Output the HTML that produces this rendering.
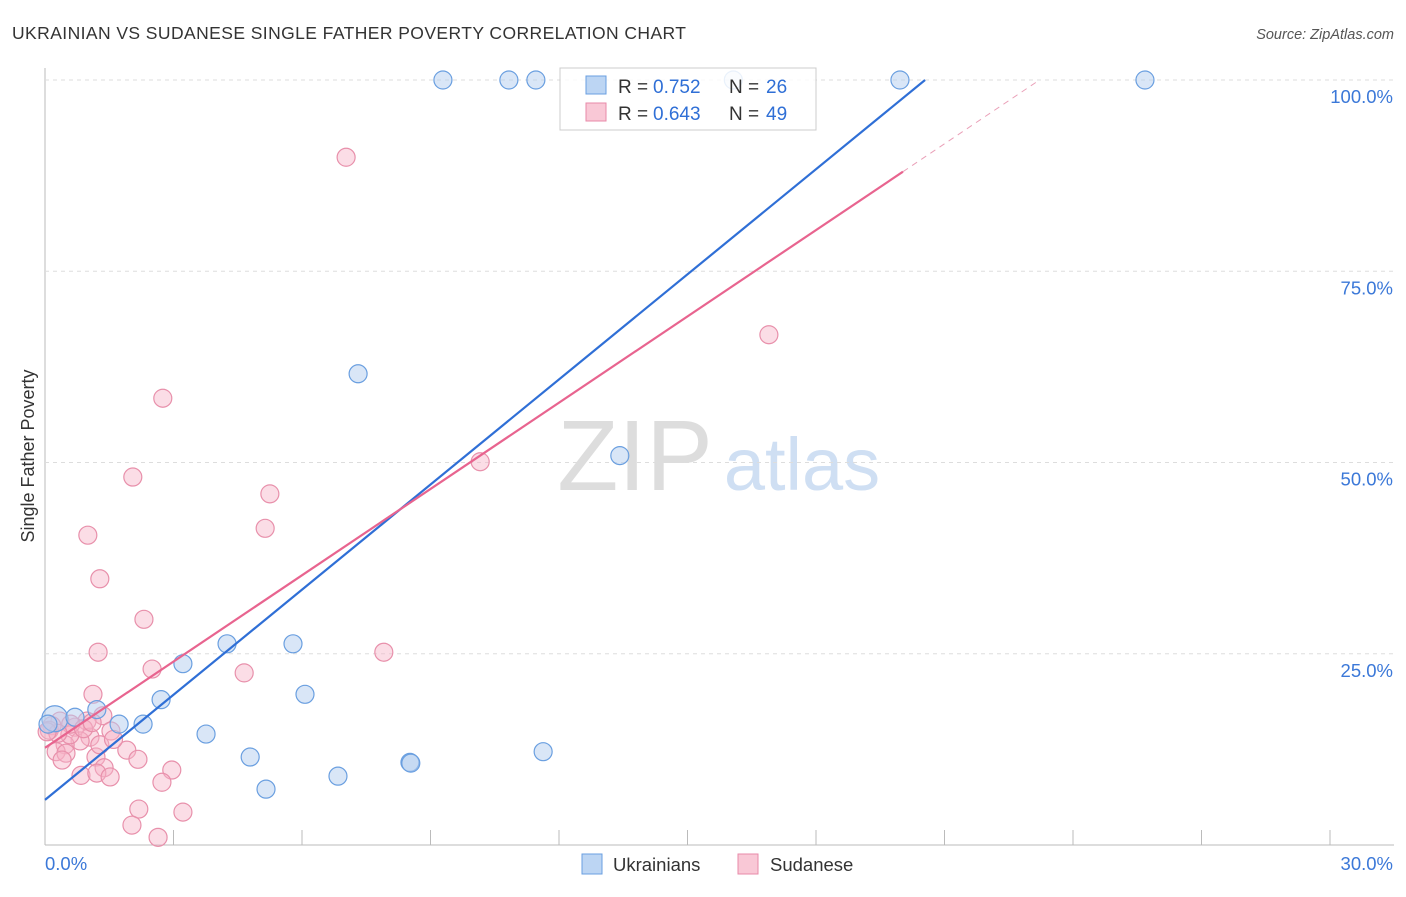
<!DOCTYPE html>
<html><head><meta charset="utf-8"><style>
body{margin:0;background:#fff;font-family:"Liberation Sans",sans-serif;}
svg text{font-family:"Liberation Sans",sans-serif;}
</style></head><body>
<svg id="c" width="1406" height="892">
<text x="12" y="39" font-size="17.5" fill="#333" textLength="674">UKRAINIAN VS SUDANESE SINGLE FATHER POVERTY CORRELATION CHART</text>
<text x="1394" y="39" font-size="14.5" fill="#555" font-style="italic" text-anchor="end">Source: ZipAtlas.com</text>
<text x="34" y="456" font-size="18" fill="#333" text-anchor="middle" transform="rotate(-90 34 456)">Single Father Poverty</text>
<text x="635" y="490" font-size="100" fill="#ddd" font-family="Liberation Serif" text-anchor="middle">ZIP</text>
<text x="802" y="490" font-size="74" fill="#cfdff3" text-anchor="middle">atlas</text>
<g id="grid"></g><g id="marks"></g>
<g>
<rect x="560" y="68" width="256" height="62" fill="rgba(255,255,255,0.85)" stroke="#ccc"/>
<rect x="586" y="76" width="20" height="18" fill="#bcd5f3" stroke="#6a9fe0"/>
<text x="618" y="93" font-size="19" fill="#333">R =</text><text x="653" y="93" font-size="19" fill="#2f6fd6">0.752</text>
<text x="729" y="93" font-size="19" fill="#333">N =</text><text x="766" y="93" font-size="19" fill="#2f6fd6">26</text>
<rect x="586" y="103" width="20" height="18" fill="#f9c8d6" stroke="#e88aa8"/>
<text x="618" y="120" font-size="19" fill="#333">R =</text><text x="653" y="120" font-size="19" fill="#2f6fd6">0.643</text>
<text x="729" y="120" font-size="19" fill="#333">N =</text><text x="766" y="120" font-size="19" fill="#2f6fd6">49</text>
</g>
<g>
<rect x="582" y="854" width="20" height="20" fill="#bcd5f3" stroke="#6a9fe0"/>
<text x="613" y="871" font-size="18.5" fill="#333">Ukrainians</text>
<rect x="738" y="854" width="20" height="20" fill="#f9c8d6" stroke="#e88aa8"/>
<text x="770" y="871" font-size="18.5" fill="#333">Sudanese</text>
</g>
</svg>
<script>
const yTicks=[25,50,75,100];
const xTickLabels=["0.0%","30.0%"];
const blueX=[9.29,10.83,11.46,16.07,19.96,25.68,7.31,13.42,4.25,5.79,3.22,6.07,2.71,1.21,2.29,1.73,3.76,4.79,11.63,8.52,8.54,6.84,5.16,0.23,0.70,0.07];
const blueY=[100,100,100,100,100,100,61.6,50.9,26.3,26.3,23.7,19.7,19.0,17.7,15.8,15.8,14.5,11.5,12.2,10.8,10.7,9.0,7.3,16.5,16.7,15.8];
const pinkX=[7.03,16.9,2.75,2.05,10.16,5.25,5.14,1.0,1.28,2.31,1.24,7.91,2.5,4.65,1.12,1.35,0.98,0.35,0.7,0.16,1.54,1.05,0.82,0.47,1.91,0.26,0.49,1.19,2.17,1.38,2.96,0.84,1.21,1.52,2.73,2.19,3.22,2.03,2.64,0.58,1.28,0.4,0.1,0.6,0.9,1.6,0.3,1.1,0.05];
const pinkY=[89.9,66.7,58.4,48.1,50.1,45.9,41.4,40.5,34.8,29.5,25.2,25.2,23.0,22.5,19.7,16.9,16.2,16.2,15.4,15.6,14.9,14.1,13.6,13.1,12.4,12.2,12.0,11.5,11.2,10.1,9.8,9.1,9.4,8.9,8.2,4.7,4.3,2.6,1.0,14.4,13.1,11.1,15.0,15.8,15.2,13.8,14.6,16.0,14.8];
const blueLine=[5.9,4.58], pinkLine=[12.7,3.76];
const X=v=>45+v/30*1285, Y=v=>845-v/100*765;
const NS="http://www.w3.org/2000/svg";
const g=document.getElementById('grid'), m=document.getElementById('marks');
function el(t,a,p){const e=document.createElementNS(NS,t);for(const k in a)e.setAttribute(k,a[k]);p.appendChild(e);return e;}
let ax=el('line',{x1:45,y1:68,x2:45,y2:845,stroke:'#bbb'},g);

let bx=el('line',{x1:45,y1:845,x2:1394,y2:845,stroke:'#bbb'},g);

for(let i=0;i<=10;i++){let t=el('line',{x1:X(i*3),y1:830,x2:X(i*3),y2:845,stroke:'#bbb'},g);
}
yTicks.forEach(v=>{let l=el('line',{x1:45,y1:Y(v),x2:1394,y2:Y(v),stroke:'#ddd','stroke-dasharray':'4,4'},g);

let t=el('text',{x:1393,y:Y(v)+23,'font-size':18.5,fill:'#3b78d8','text-anchor':'end'},g);t.textContent=v.toFixed(1)+'%';
});
let t0=el('text',{x:45,y:870,'font-size':18.5,fill:'#3b78d8'},g);t0.textContent=xTickLabels[0];

let t1=el('text',{x:1393,y:870,'font-size':18.5,fill:'#3b78d8','text-anchor':'end'},g);t1.textContent=xTickLabels[1];

pinkX.forEach((x,i)=>{let c=el('circle',{cx:X(x),cy:Y(pinkY[i]),r:9,fill:'rgba(246,180,200,0.45)',stroke:'#e890ab','stroke-width':1.2},m);
});
blueX.forEach((x,i)=>{let c=el('circle',{cx:X(x),cy:Y(blueY[i]),r:i==23?13:9,fill:'rgba(180,205,240,0.5)',stroke:'#6a9fe0','stroke-width':1.2},m);
});
const bEnd=(100-blueLine[0])/blueLine[1];
let bl=el('line',{x1:X(0),y1:Y(blueLine[0]),x2:X(bEnd),y2:Y(100),stroke:'#2f6fd6','stroke-width':2.2},m);

const pEnd=20.03,pFull=(100-pinkLine[0])/pinkLine[1];
let pl=el('line',{x1:X(0),y1:Y(pinkLine[0]),x2:X(pEnd),y2:Y(pinkLine[0]+pinkLine[1]*pEnd),stroke:'#e8648f','stroke-width':2.2},m);

let pd=el('line',{x1:X(pEnd),y1:Y(pinkLine[0]+pinkLine[1]*pEnd),x2:X(pFull),y2:Y(100),stroke:'#eaa0b8','stroke-width':1,'stroke-dasharray':'6,5'},m);

</script>
</body></html>
